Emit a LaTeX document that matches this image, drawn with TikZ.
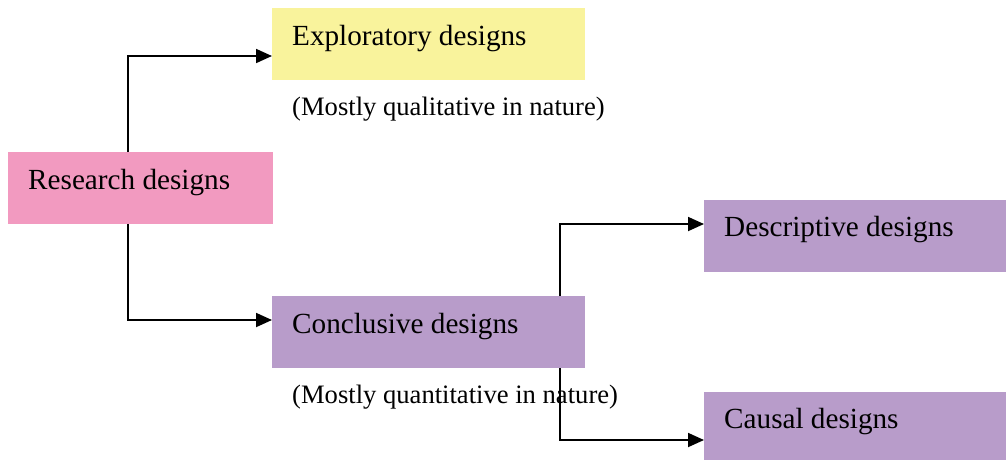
\documentclass[tikz,border=0pt]{standalone}
\usepackage{fontspec}
\setmainfont{Liberation Serif}
\usetikzlibrary{arrows.meta}
\definecolor{pinkc}{RGB}{242,154,192}
\definecolor{yellowc}{RGB}{249,243,156}
\definecolor{purplec}{RGB}{184,156,202}
\tikzset{
  box/.style={inner sep=0pt, outer sep=0pt, anchor=north west},
  lbl/.style={anchor=base west, inner sep=0pt, font=\fontsize{29.2}{32}\selectfont},
  note/.style={anchor=base west, inner sep=0pt, font=\fontsize{26.6}{30}\selectfont},
  conn/.style={line width=1.8pt, -{Triangle[length=16pt,width=14pt]}}
}
\begin{document}
\begin{tikzpicture}[x=1pt,y=-1pt]
\useasboundingbox (0,0) rectangle (1006,461);
% boxes
\node[box, fill=pinkc, minimum width=265pt, minimum height=72pt] (res) at (8,152) {};
\node[box, fill=yellowc, minimum width=313pt, minimum height=72pt] (exp) at (272,8) {};
\node[box, fill=purplec, minimum width=313pt, minimum height=72pt] (con) at (272,296) {};
\node[box, fill=purplec, minimum width=302pt, minimum height=72pt] (des) at (704,200) {};
\node[box, fill=purplec, minimum width=302pt, minimum height=68pt] (cau) at (704,392) {};
% texts
\node[lbl] (tres) at (28,189) {Research designs};
\node[lbl] (texp) at (292,45) {Exploratory designs};
\node[note] (nexp) at (292,115) {(Mostly qualitative in nature)};
\node[lbl] (tcon) at (292,333) {Conclusive designs};
\node[note] (ncon) at (292,403) {(Mostly quantitative in nature)};
\node[lbl] (tdes) at (724,236) {Descriptive designs};
\node[lbl] (tcau) at (724,428) {Causal designs};
% connectors
\coordinate (resT) at (128,152);
\coordinate (resB) at (128,224);
\coordinate (conT) at (560,296);
\coordinate (conB) at (560,368);
\draw[conn] (resT) |- (exp.west |- 0,56);
\draw[conn] (resB) |- (con.west |- 0,320);
\draw[conn] (conT) |- (des.west |- 0,224);
\draw[conn] (conB) |- (cau.west |- 0,440);
\end{tikzpicture}
\end{document}
